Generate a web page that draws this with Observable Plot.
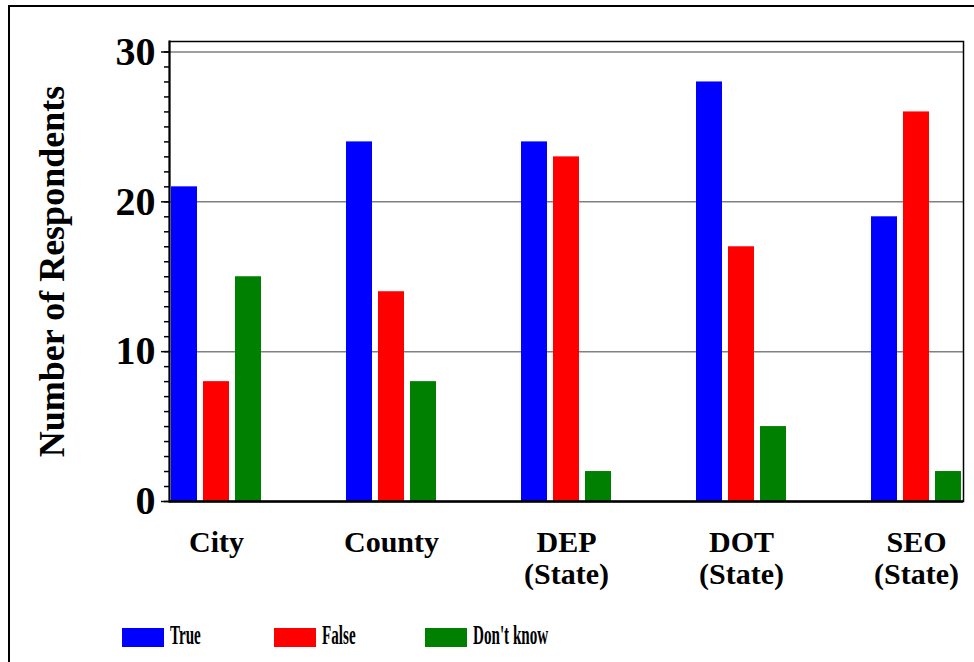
<!DOCTYPE html>
<html><head><meta charset="utf-8">
<script src="https://cdn.jsdelivr.net/npm/d3@7"></script>
<script src="https://cdn.jsdelivr.net/npm/@observablehq/plot@0.6"></script>
<style>
body{margin:0;background:#fff;width:974px;height:662px;overflow:hidden;position:relative;font-family:"Liberation Serif","Times New Roman",serif;}
#border{position:absolute;left:8px;top:5px;width:1000px;height:700px;border:2px solid #000;z-index:5;pointer-events:none;}
#chart{position:absolute;left:0;top:0;}
#legend{position:absolute;left:0;top:628px;width:974px;height:20px;}
.item{position:absolute;top:0;height:19px;}
.sw{position:absolute;left:0;top:0;width:42px;height:19px;}
.lab{position:absolute;left:48px;top:-7px;font-weight:bold;font-size:28px;transform:scaleX(0.54);transform-origin:0 0;white-space:nowrap;line-height:1;color:#000;}
</style></head><body>
<div id="border"></div><div id="chart"></div><div id="legend"></div>
<script>
const categories = ["City", "County", "DEP (State)", "DOT (State)", "SEO (State)"];
const categoryLabels = ["City", "County", "DEP\n(State)", "DOT\n(State)", "SEO\n(State)"];
const series = ["True", "False", "Don't know"];
const colors = ["#0000ff", "#ff0000", "#008000"];
const trueValues = [21, 24, 24, 28, 19];
const falseValues = [8, 14, 23, 17, 26];
const dontKnowValues = [15, 8, 2, 5, 2];
const yTicks = [0, 10, 20, 30];
const gridTicks = [10, 20, 30];
const yTitle = "Number of Respondents";

const valuesBySeries = [trueValues, falseValues, dontKnowValues];
const rows = [];
series.forEach((s, si) => categories.forEach((c, ci) => rows.push({category: c, series: s, value: valuesBySeries[si][ci]})));

const barW = 26, gap = 6, groupW = 3 * barW + 2 * gap;
const barMarks = series.map((s, si) => Plot.barY(rows.filter(d => d.series === s), {
  x: "category", y: "value", fill: colors[si],
  insetLeft: si * (barW + gap), insetRight: groupW - barW - si * (barW + gap)
}));

const labelOf = new Map(categories.map((c, i) => [c, categoryLabels[i]]));

const chart = Plot.plot({
  width: 974, height: 610,
  marginLeft: 169, marginRight: 11, marginTop: 41, marginBottom: 109,
  style: {fontFamily: "'Liberation Serif', 'Times New Roman', serif", color: "black", background: "transparent", overflow: "visible"},
  x: {domain: categories, type: "band", paddingInner: 0.487, paddingOuter: 0.01, axis: null},
  y: {domain: [0, 30.7], axis: null},
  marks: [
    Plot.gridY(gridTicks, {stroke: "#808080", strokeOpacity: 1, strokeWidth: 1.5}),
    ...barMarks,
    Plot.frame({stroke: "black", strokeWidth: 1.5}),
    Plot.frame({anchor: "left", stroke: "black", strokeWidth: 2}),
    Plot.ruleY([0], {stroke: "black", strokeWidth: 2.5}),
    Plot.axisY(d3.range(0, 31), {tickSize: 5, tickFormat: () => "", label: null, strokeWidth: 1.5}),
    Plot.axisY(yTicks, {tickSize: 8, tickPadding: 6, fontSize: 40, fontWeight: "bold", label: null, strokeWidth: 1.5}),
    Plot.axisX(categories, {tickSize: 0, tickPadding: 28, fontSize: 30, fontWeight: "bold", lineHeight: 1.07, label: null, tickFormat: d => labelOf.get(d)}),
    Plot.text([yTitle], {frameAnchor: "left", textAnchor: "middle", rotate: -90, dx: -117, fontSize: 36, fontWeight: "bold", fill: "black"})
  ]
});
document.getElementById("chart").appendChild(chart);

const legend = d3.select("#legend");
series.forEach((s, i) => {
  const item = legend.append("div").attr("class", "item").style("left", (122 + i * 151.5) + "px");
  item.append("div").attr("class", "sw").style("background", colors[i]);
  item.append("div").attr("class", "lab").text(s);
});
</script>
</body></html>
